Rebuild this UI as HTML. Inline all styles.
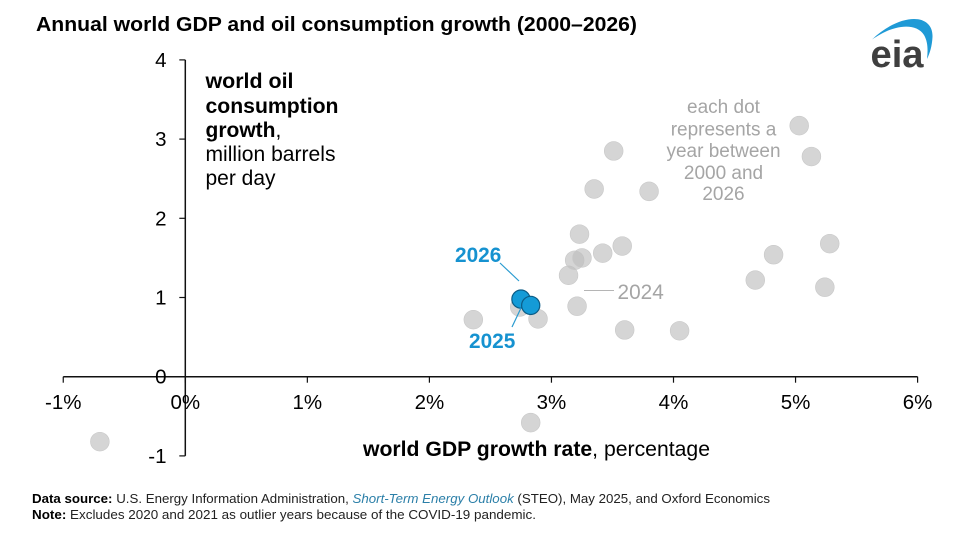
<!DOCTYPE html>
<html>
<head>
<meta charset="utf-8">
<style>
html,body{margin:0;padding:0;background:#fff;width:971px;height:534px;overflow:hidden}
svg{display:block;font-family:"Liberation Sans",sans-serif}
</style>
</head>
<body>
<svg id="chart" width="971" height="534" viewBox="0 0 971 534" xmlns="http://www.w3.org/2000/svg">
<rect width="971" height="534" fill="#fff"/>
<text x="36" y="31" font-size="20.500" font-weight="700" fill="#000" textLength="601" lengthAdjust="spacingAndGlyphs">Annual world GDP and oil consumption growth (2000–2026)</text>
<g>
<path d="M872 39.500 C886 26 902 19 914 19 C926 19 933 26 932.500 37 C932 46 930 53 927 59 C928 50 928 42 924 35 C919 27 908 25 896 28 C887 30 879 35 872 39.500 Z" fill="#1f9ad6"/>
<text x="870.500" y="67" font-size="38" font-weight="700" fill="#3f3f3f" textLength="53" lengthAdjust="spacingAndGlyphs">eia</text>
</g>
<g id="axes"></g>
<g id="marks"></g>
<g font-size="21" fill="#000">
<text x="205.500" y="88" font-weight="700" textLength="88" lengthAdjust="spacingAndGlyphs">world oil</text>
<text x="205.500" y="113" font-weight="700" textLength="133" lengthAdjust="spacingAndGlyphs">consumption</text>
<text x="205.500" y="137"><tspan font-weight="700">growth</tspan>,</text>
<text x="205.500" y="161" textLength="130" lengthAdjust="spacingAndGlyphs">million barrels</text>
<text x="205.500" y="185">per day</text>
</g>
<text x="363" y="456" font-size="21" fill="#000" textLength="347" lengthAdjust="spacingAndGlyphs"><tspan font-weight="700">world GDP growth rate</tspan>, percentage</text>
<g font-size="19" fill="#a5a5a5" text-anchor="middle">
<text x="723.500" y="113">each dot</text>
<text x="723.500" y="135.500">represents a</text>
<text x="723.500" y="157">year between</text>
<text x="723.500" y="179">2000 and</text>
<text x="723.500" y="200">2026</text>
</g>
<line x1="584" y1="290.500" x2="614" y2="290.500" stroke="#b5b5b5" stroke-width="1"/>
<text x="617.500" y="299" font-size="20.800" fill="#a5a5a5">2024</text>
<line x1="500" y1="263" x2="519" y2="281" stroke="#2a9bd0" stroke-width="1.200"/>
<text x="455" y="262" font-size="20.800" font-weight="700" fill="#1692d0">2026</text>
<line x1="512" y1="327" x2="521" y2="308" stroke="#2a9bd0" stroke-width="1.200"/>
<text x="469" y="348" font-size="20.800" font-weight="700" fill="#1692d0">2025</text>
<g font-size="12.500" fill="#222">
<text x="32" y="503" textLength="738" lengthAdjust="spacingAndGlyphs"><tspan font-weight="700" fill="#000">Data source:</tspan> U.S. Energy Information Administration, <tspan font-style="italic" fill="#2b7fa8">Short-Term Energy Outlook</tspan> (STEO), May 2025, and Oxford Economics</text>
<text x="32" y="519" textLength="504" lengthAdjust="spacingAndGlyphs"><tspan font-weight="700" fill="#000">Note:</tspan> Excludes 2020 and 2021 as outlier years because of the COVID-19 pandemic.</text>
</g>
</svg>
<script>
const xTicks = [-1, 0, 1, 2, 3, 4, 5, 6];
const yTicks = [-1, 0, 1, 2, 3, 4];
const gdpGrowth = [-0.70, 2.36, 2.83, 2.89, 2.74, 3.21, 3.14, 3.19, 3.25, 3.23, 3.42, 3.58, 3.60, 4.05, 4.67, 4.82, 5.24, 5.28, 5.03, 5.13, 3.51, 3.35, 3.80];
const oilGrowth = [-0.82, 0.72, -0.58, 0.73, 0.88, 0.89, 1.28, 1.47, 1.50, 1.80, 1.56, 1.65, 0.59, 0.58, 1.22, 1.54, 1.13, 1.68, 3.17, 2.78, 2.85, 2.37, 2.34];
const highlightYears = [2026, 2025];
const highlightGdp = [2.75, 2.83];
const highlightOil = [0.98, 0.90];

const SVG_NS = 'http://www.w3.org/2000/svg';
const xScale = v => 185.3 + v * 122.05;
const yScale = v => 376.7 - v * 79.2;
const axes = document.getElementById('axes');
const marks = document.getElementById('marks');

function make(tag, props, parent) {
  const el = document.createElementNS(SVG_NS, tag);
  for (const k in props) el.setAttribute(k, props[k]);
  parent.appendChild(el);
  return el;
}

const xAxisLine = make('line', {x1: xScale(-1), x2: xScale(6), y1: yScale(0), y2: yScale(0), stroke: '#111', 'stroke-width': 1.5}, axes);


const yAxisLine = make('line', {x1: xScale(0), x2: xScale(0), y1: yScale(4), y2: yScale(-1), stroke: '#111', 'stroke-width': 1.5}, axes);



xTicks.forEach(t => {
  const tick = make('line', {x1: xScale(t), x2: xScale(t), y1: yScale(0), y2: yScale(0) + 6, stroke: '#111', 'stroke-width': 1.2}, axes);
  
  
  const label = make('text', {x: xScale(t), y: 409, 'font-size': 20.5, fill: '#000', 'text-anchor': 'middle'}, axes);
  label.textContent = t + '%';
  
  
});
yTicks.forEach(t => {
  const tick = make('line', {x1: xScale(0) - 6, x2: xScale(0), y1: yScale(t), y2: yScale(t), stroke: '#111', 'stroke-width': 1.2}, axes);
  
  
  const label = make('text', {x: 166.5, y: yScale(t) + 7, 'font-size': 20.5, fill: '#000', 'text-anchor': 'end'}, axes);
  label.textContent = String(t);
  
  
});

gdpGrowth.forEach((g, i) => {
  const dot = make('circle', {cx: xScale(g), cy: yScale(oilGrowth[i]), r: 9.4, fill: '#bfbfbf', 'fill-opacity': 0.65, stroke: '#c8c8c8', 'stroke-width': 0.6}, marks);
  
  
});
highlightGdp.forEach((g, i) => {
  const dot = make('circle', {cx: xScale(g), cy: yScale(highlightOil[i]), r: 9.1, fill: '#149bd7', stroke: '#0b5c86', 'stroke-width': 1.2}, marks);
  
  
});
</script>
</body>
</html>
